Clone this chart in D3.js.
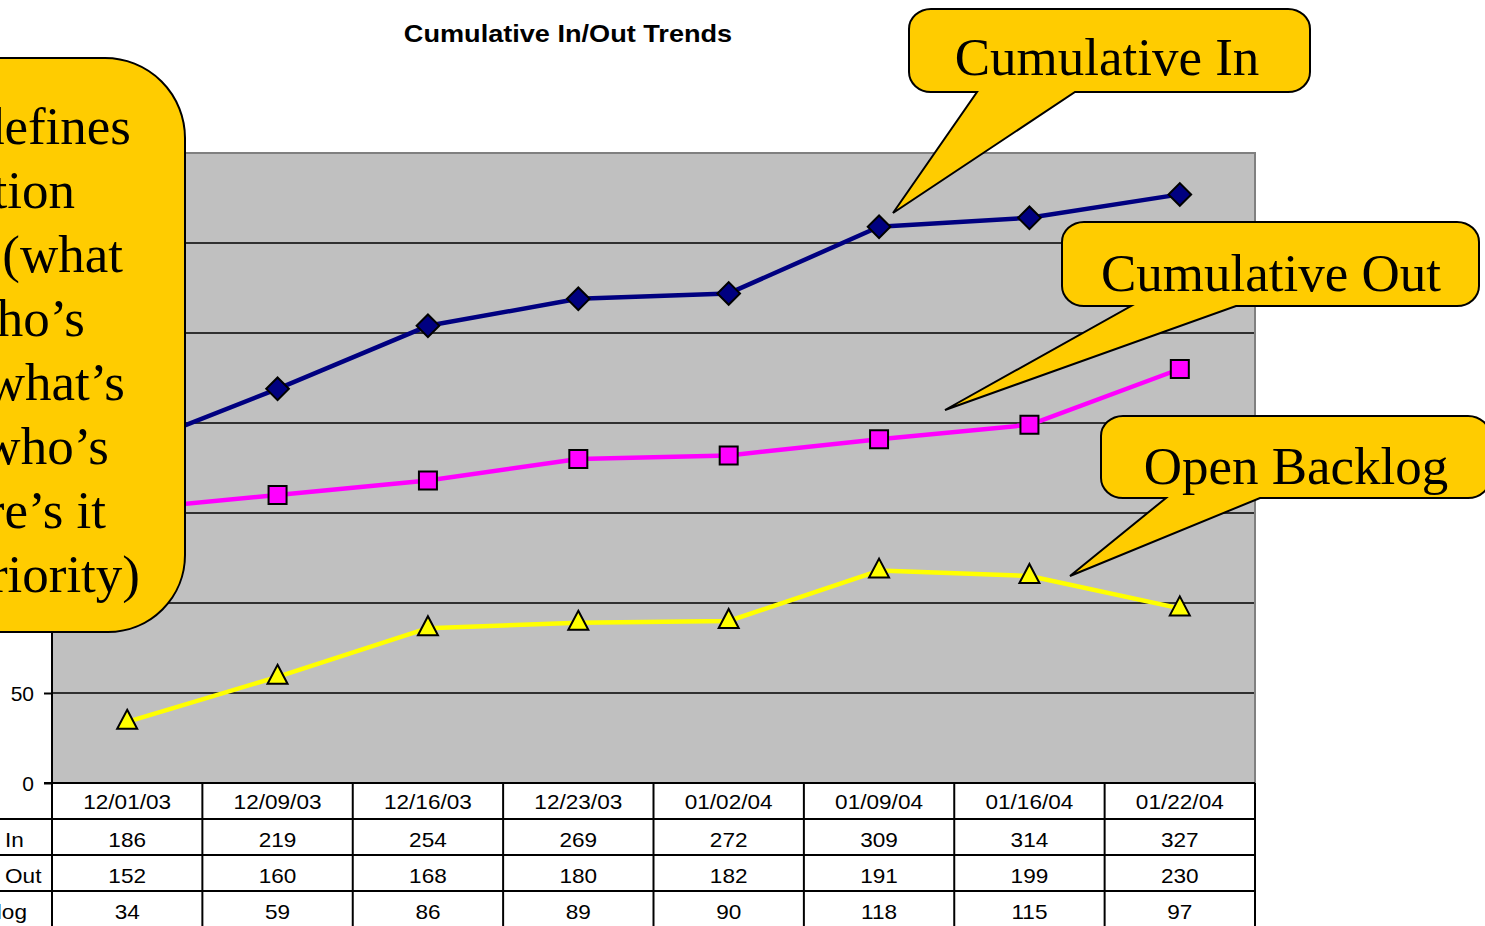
<!DOCTYPE html>
<html><head><meta charset="utf-8">
<script src="https://cdn.jsdelivr.net/npm/d3@7"></script>
<style>
html,body{margin:0;padding:0;background:#fff;overflow:hidden;}
svg{display:block;}
</style></head>
<body>
<svg id="chart" width="1485" height="926"></svg>
<script>
// ---------- data ----------
const dates = ["12/01/03","12/09/03","12/16/03","12/23/03","01/02/04","01/09/04","01/16/04","01/22/04"];
const cumulativeIn = [186,219,254,269,272,309,314,327];
const cumulativeOut = [152,160,168,180,182,191,199,230];
const openBacklog = [34,59,86,89,90,118,115,97];
const seriesNames = ["In","Out","Backlog"];
const yTicks = [0,50,100,150,200,250,300,350];
const chartTitle = "Cumulative In/Out Trends";
const leftNoteLines = ["defines","tion"," (what","ho\u2019s","what\u2019s","who\u2019s","re\u2019s it","riority)"];
const calloutLabels = ["Cumulative In","Cumulative Out","Open Backlog"];

// ---------- layout ----------
const svg = d3.select("#chart");
const plot = {left:52, right:1255, top:153, bottom:783};
const rowH = 36;
const x = d3.scaleBand().domain(dates).range([plot.left, plot.right]);
const y = d3.scaleLinear().domain([0,350]).range([plot.bottom, plot.top]);
const SX = 1.13; // horizontal stretch of the sans text in the reference
const noteBox = {right:185, top:58, bottom:632};

// plot background
svg.append("rect").attr("x",plot.left).attr("y",plot.top)
  .attr("width",plot.right-plot.left).attr("height",plot.bottom-plot.top)
  .attr("fill","#C0C0C0");

// gridlines
svg.append("g").selectAll("line").data(yTicks.filter(v=>v>0 && v<350)).join("line")
  .attr("x1",plot.left).attr("x2",plot.right)
  .attr("y1",d=>y(d)).attr("y2",d=>y(d))
  .attr("stroke","#000").attr("stroke-width",1.6);

// top/right border (gray)
svg.append("path")
  .attr("d",`M${plot.left},${plot.top}H${plot.right}V${plot.bottom}`)
  .attr("fill","none").attr("stroke","#808080").attr("stroke-width",2);

// y axis (labels above the note box bottom are hidden behind it in the reference)
const yAxis = svg.append("g").attr("transform",`translate(${plot.left},0)`)
  .call(d3.axisLeft(y).tickValues(yTicks.filter(v=>y(v)>noteBox.bottom)).tickSize(8).tickPadding(10).tickFormat(d3.format("d")));
yAxis.select(".domain").remove();
yAxis.selectAll(".tick line").attr("stroke","#000").attr("stroke-width",2);
yAxis.selectAll(".tick text").attr("font-family","Arial, 'Liberation Sans', sans-serif")
  .attr("font-size",21).attr("fill","#000").attr("dy","0.36em");

// ---------- table ----------
const tableBottom = plot.bottom + rowH*4 + 2;
const tbl = svg.append("g");
tbl.append("line").attr("x1",plot.left).attr("x2",plot.left).attr("y1",plot.top).attr("y2",tableBottom)
  .attr("stroke","#000").attr("stroke-width",2);
tbl.selectAll("line.v").data(dates).join("line").attr("class","v")
  .attr("x1",d=>x(d)+x.bandwidth()).attr("x2",d=>x(d)+x.bandwidth())
  .attr("y1",plot.bottom).attr("y2",tableBottom)
  .attr("stroke","#000").attr("stroke-width",2);
tbl.append("line").attr("x1",plot.left-8).attr("x2",plot.right).attr("y1",plot.bottom).attr("y2",plot.bottom)
  .attr("stroke","#000").attr("stroke-width",2);
tbl.selectAll("line.h").data([1,2,3]).join("line").attr("class","h")
  .attr("x1",0).attr("x2",plot.right)
  .attr("y1",d=>plot.bottom+rowH*d).attr("y2",d=>plot.bottom+rowH*d)
  .attr("stroke","#000").attr("stroke-width",2);

function sansText(g, tx, ty, txt, anchor, size, weight){
  const gg = g.append("g").attr("transform",`translate(${tx},${ty}) scale(${SX},1)`);
  gg.append("text").attr("text-anchor",anchor||"middle")
    .attr("font-family","Arial, 'Liberation Sans', sans-serif")
    .attr("font-size",size||20).attr("font-weight",weight||"normal")
    .attr("fill","#000").text(txt);
}
dates.forEach(d=>sansText(tbl, x(d)+x.bandwidth()/2, plot.bottom+26, d));
const rows = [cumulativeIn, cumulativeOut, openBacklog];
rows.forEach((vals,r)=>{
  vals.forEach((v,i)=>sansText(tbl, x(dates[i])+x.bandwidth()/2, plot.bottom+rowH*(r+1)+28, String(v)));
});
sansText(tbl, 5, plot.bottom+rowH*1+28, seriesNames[0], "start");
sansText(tbl, 5, plot.bottom+rowH*2+28, seriesNames[1], "start");
sansText(tbl, 27, plot.bottom+rowH*3+28, seriesNames[2], "end");

// ---------- series ----------
const cx = i => x(dates[i]) + x.bandwidth()/2;
const line = d3.line().x((d,i)=>cx(i)).y(d=>y(d));
const series = [
  {vals:cumulativeIn, color:"#000080", symbol:"diamond"},
  {vals:cumulativeOut, color:"#FF00FF", symbol:"square"},
  {vals:openBacklog, color:"#FFFF00", symbol:"triangle"}
];
series.forEach(s=>{
  svg.append("path").datum(s.vals).attr("d",line)
    .attr("fill","none").attr("stroke",s.color).attr("stroke-width",4.5)
    .attr("stroke-linejoin","round");
});
series.forEach(s=>{
  const g = svg.append("g");
  s.vals.forEach((v,i)=>{
    let p;
    if(s.symbol==="diamond"){
      p = g.append("path").attr("d",d3.symbol(d3.symbolSquare, 256)())
        .attr("transform",`translate(${cx(i)},${y(v)}) rotate(45)`);
    } else if(s.symbol==="square"){
      p = g.append("path").attr("d",d3.symbol(d3.symbolSquare, 324)())
        .attr("transform",`translate(${cx(i)},${y(v)})`);
    } else {
      p = g.append("path").attr("d","M0,-12L10,7L-10,7Z")
        .attr("transform",`translate(${cx(i)},${y(v)})`);
    }
    p.attr("fill",s.color).attr("stroke","#000").attr("stroke-width",2).attr("stroke-linejoin","miter");
  });
});

// ---------- title ----------
sansText(svg, 568, 42, chartTitle, "middle", 24, "bold");

// ---------- callouts ----------
const CALLOUT_FILL = "#FFCC00";
function bubble(x0,x1,y0,y1,b1,b2,tx,ty){
  const r = 22, ry = 20;
  const d = `M${x0+r},${y0}H${x1-r}A${r},${ry} 0 0 1 ${x1},${y0+ry}V${y1-ry}A${r},${ry} 0 0 1 ${x1-r},${y1}`
    + `H${b2}L${tx},${ty}L${b1},${y1}H${x0+r}A${r},${ry} 0 0 1 ${x0},${y1-ry}V${y0+ry}A${r},${ry} 0 0 1 ${x0+r},${y0}Z`;
  svg.append("path").attr("d",d).attr("fill",CALLOUT_FILL).attr("stroke","#000").attr("stroke-width",2)
    .attr("stroke-linejoin","miter");
}
function serif(tx,ty,txt,anchor){
  svg.append("text").attr("x",tx).attr("y",ty).attr("text-anchor",anchor||"middle")
    .attr("font-family","'Times New Roman','Liberation Serif',serif").attr("font-size",53)
    .attr("fill","#000").text(txt);
}
bubble(909,1310,9,92,977,1075,893,213);
serif(1107,75,calloutLabels[0]);
bubble(1062,1479,222,306,1131,1236,945,410);
serif(1271,291,calloutLabels[1]);
bubble(1101,1490,416,498,1166,1260,1070,576);
serif(1296,484,calloutLabels[2]);

// left note box (clipped by the page edge)
svg.append("path")
  .attr("d",`M-100,${noteBox.top}H105A80,80 0 0 1 ${noteBox.right},138V555A77,77 0 0 1 108,${noteBox.bottom}H-100Z`)
  .attr("fill",CALLOUT_FILL).attr("stroke","#000").attr("stroke-width",2);
const noteEnds = [131,75,123,85,125,109,106,140];
leftNoteLines.forEach((t,i)=>serif(noteEnds[i], 144+64*i, t, "end"));
</script>
</body></html>
